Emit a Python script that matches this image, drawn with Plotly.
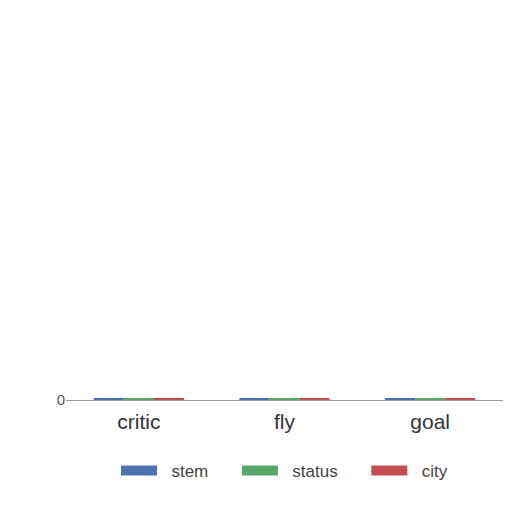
import plotly.graph_objects as go

# categories and series (all values sit right on the zero line)
categories = ['critic', 'fly', 'goal']
stem = [0.3, 0.3, 0.3]
status = [0.3, 0.3, 0.3]
city = [0.3, 0.3, 0.3]

series = [('stem', stem, '#4c72b0'), ('status', status, '#55a868'), ('city', city, '#c44e52')]

pad = '\u00a0' * 2
fig = go.Figure()
for i, (name, vals, color) in enumerate(series):
    fig.add_trace(go.Bar(x=categories, y=vals, name=name, showlegend=False,
                         marker=dict(color=color, line=dict(width=0))))
    # wide swatch for the legend, extra space between entries
    tail = '' if i == len(series) - 1 else '\u00a0' * 5
    fig.add_trace(go.Scatter(x=[None], y=[None], mode='lines', name=pad + name + tail,
                             line=dict(color=color, width=12)))

fig.update_layout(
    width=512, height=512,
    barmode='group',
    bargap=0.38,
    bargroupgap=0,
    paper_bgcolor='white',
    plot_bgcolor='white',
    font=dict(family='Liberation Sans, Arial', color='#333333'),
    margin=dict(l=58, r=17, t=2, b=120),
    xaxis=dict(showgrid=False, showline=True, linecolor='#999999', linewidth=1,
               tickfont=dict(size=21), ticks='', ticklabelstandoff=3),
    yaxis=dict(range=[0, 100], tickvals=[0], ticktext=['0'], showgrid=False,
               zeroline=False, tickfont=dict(size=15, color='#555555')),
    legend=dict(orientation='h', x=0.5, xanchor='center', y=-0.182, yanchor='middle',
                font=dict(size=17, color='#444444'), itemwidth=36),
)

fig.write_html("out.html")
